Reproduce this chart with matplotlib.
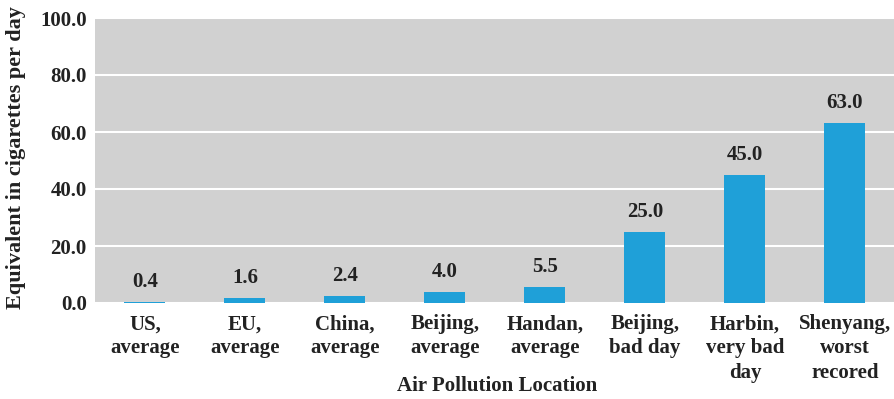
import matplotlib.pyplot as plt

plt.rcParams['font.family'] = ['Liberation Serif', 'DejaVu Serif']
plt.rcParams['font.weight'] = 'bold'

locations = ["US,\naverage", "EU,\naverage", "China,\naverage", "Beijing,\naverage",
             "Handan,\naverage", "Beijing,\nbad day", "Harbin,\nvery bad\nday",
             "Shenyang,\nworst\nrecored"]
cigarettes = [0.4, 1.6, 2.4, 4.0, 5.5, 25.0, 45.0, 63.0]
yticks = [0, 20, 40, 60, 80, 100]

fig = plt.figure(figsize=(8.95, 3.99), dpi=100)
ax = fig.add_axes([95/895, 1 - 303/399, 800/895, 285/399])
ax.set_facecolor('#d1d1d1')

x = range(len(locations))
bars = ax.bar(x, cigarettes, width=0.41, color='#1fa0d8', zorder=3)
for xi, v in zip(x, cigarettes):
    ax.text(xi, v + 3.5, "%.1f" % v, ha='center', va='bottom', fontsize=15,
            fontweight='bold', color='#222222')

ax.set_xlim(-0.5, 7.5)
ax.set_ylim(0, 100)
ax.set_yticks(yticks)
ax.set_yticklabels(["%.1f" % t for t in yticks], fontsize=15)
ax.set_xticks(list(x))
ax.set_xticklabels(locations, fontsize=15, va='top', linespacing=1.28)
ax.tick_params(axis='x', length=0, pad=8, colors='#222222')
ax.tick_params(axis='y', length=0, pad=6, colors='#222222')
ax.grid(True, axis='y', color='white', linewidth=1.5, zorder=1)
for s in ax.spines.values():
    s.set_visible(False)

# axis titles placed on the figure so they sit where the original has them
fig.text(497/895, 1 - 386/399, 'Air Pollution Location', fontsize=15,
         fontweight='bold', ha='center', va='center', color='#222222')
fig.text(16/895, 1 - 158/399, 'Equivalent in cigarettes per day', fontsize=16,
         fontweight='bold', ha='center', va='center', rotation=90, color='#222222')

plt.savefig("out.png", dpi=100)
